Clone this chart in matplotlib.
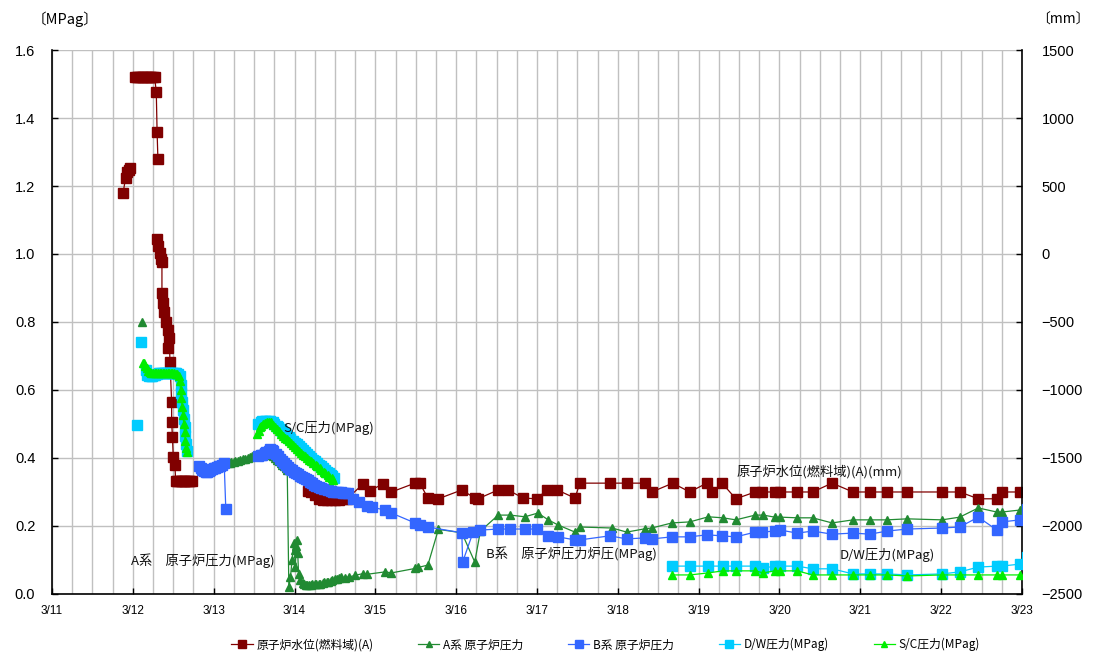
import numpy as np
import matplotlib
matplotlib.use("Agg")
import matplotlib.pyplot as plt

plt.rcParams['font.family'] = ['Noto Sans CJK JP', 'DejaVu Sans']

nan = np.nan

# time axis is "day of March" (11.0 = 3/11 0:00)
day_ticks = list(range(11, 24))
day_labels = [f"3/{d}" for d in day_ticks]

# 原子炉水位(燃料域)(A) [mm]  (nan = no record)
lvl_t = [11.88, 11.91, 11.93, 11.95, 11.97, nan,
         12.03, 12.05, 12.07, 12.09, 12.11, 12.13, 12.15, 12.17, 12.19, 12.21, 12.23,
         12.25, 12.27, 12.29, 12.30, 12.31, nan,
         12.30, 12.31, 12.33, 12.35, 12.36, 12.36, 12.37, 12.39, 12.41, 12.43, 12.44,
         12.45, 12.46, 12.48, 12.48, 12.49, 12.50, 12.52,
         12.53, 12.55, 12.57, 12.59, 12.61, 12.63, 12.65, 12.67, 12.69, 12.71, 12.73, nan,
         14.17, 14.21, 14.25, 14.30, 14.35, 14.40, 14.45, 14.50, 14.55, 14.60, 14.65,
         14.85, 14.93, 15.10, 15.20, 15.49, 15.55, 15.65, 15.78, 16.07, 16.23, 16.27,
         16.52, 16.64, 16.83, 17.00, 17.12, 17.25, 17.47, 17.53, 17.90, 18.11, 18.34,
         18.42, 18.68, 18.89, 19.10, 19.17, 19.29, 19.46, 19.70, 19.78, 19.94, 20.01,
         20.22, 20.41, 20.65, 20.91, 21.12, 21.33, 21.58, 22.01, 22.23, 22.46, 22.69,
         22.75, 22.98]
lvl_mm = [450, 560, 600, 620, 630, nan,
          1300, 1300, 1300, 1300, 1300, 1300, 1300, 1300, 1300, 1300, 1300,
          1300, 1300, 1190, 900, 700, nan,
          110, 60, 10, -40, -60, -290, -360, -430, -500, -560, -690,
          -620, -794, -1090, -1235, -1346, -1493, -1551,
          -1670, -1670, -1670, -1670, -1670, -1670, -1670, -1670, -1670, -1670, -1670, nan,
          -1740, -1750, -1770, -1800, -1810, -1810, -1810, -1810, -1810, -1800, -1800,
          -1690, -1740, -1690, -1750, -1685, -1685, -1795, -1800, -1735, -1795, -1800,
          -1735, -1735, -1795, -1800, -1735, -1735, -1795, -1685, -1685, -1685, -1685,
          -1750, -1685, -1750, -1685, -1750, -1685, -1800, -1750, -1750, -1750, -1750,
          -1750, -1750, -1685, -1750, -1750, -1750, -1750, -1750, -1750, -1800, -1800,
          -1750, -1750]

# A系 原子炉圧力 [MPag]
a_t = [12.11, nan,
       13.18, 13.20, 13.22, 13.25, 13.27, 13.30, 13.33, 13.36, 13.39, 13.42, 13.45,
       13.48, 13.51, 13.54, 13.57, 13.60, 13.63, 13.66, 13.68, 13.71, 13.73, 13.76,
       13.78, 13.81, 13.83, 13.85, 13.87, 13.89, 13.91, 13.93, 13.95, 13.97, 13.99,
       14.00, 14.01, 14.02, 14.03, 14.04, 14.05, 14.07, 14.10, 14.12, 14.14, 14.16,
       14.18, 14.20, 14.22, 14.25, 14.27, 14.30, 14.32, 14.35, 14.37, 14.40, 14.42,
       14.45, 14.47, 14.50, 14.52, 14.55, 14.57, 14.62, 14.68, 14.75, 14.85, 14.90,
       15.12, 15.20, 15.49, 15.53, 15.65, 15.78, 16.07, 16.23, 16.30, 16.52, 16.67,
       16.85, 17.01, 17.14, 17.26, 17.47, 17.53, 17.93, 18.11, 18.34, 18.42, 18.67,
       18.89, 19.12, 19.30, 19.46, 19.70, 19.80, 19.94, 20.01, 20.22, 20.41, 20.65,
       20.91, 21.12, 21.33, 21.58, 22.01, 22.23, 22.46, 22.69, 22.75, 22.98, 23.06]
a_p = [0.80, nan,
       0.385, 0.386, 0.387, 0.389, 0.390, 0.392, 0.394, 0.396, 0.398, 0.400, 0.403,
       0.406, 0.410, 0.412, 0.415, 0.418, 0.420, 0.418, 0.415, 0.410, 0.405, 0.400,
       0.395, 0.390, 0.385, 0.380, 0.375, 0.370, 0.365, 0.020, 0.050, 0.100, 0.150,
       0.130, 0.080, 0.140, 0.160, 0.120, 0.060, 0.040, 0.032, 0.028, 0.026, 0.025,
       0.025, 0.026, 0.028, 0.029, 0.030, 0.030, 0.030, 0.033, 0.035, 0.035, 0.035,
       0.038, 0.040, 0.043, 0.045, 0.048, 0.050, 0.048, 0.050, 0.055, 0.060, 0.058,
       0.065, 0.062, 0.075, 0.078, 0.085, 0.190, 0.180, 0.094, 0.185, 0.232, 0.232,
       0.227, 0.238, 0.218, 0.203, 0.182, 0.197, 0.194, 0.182, 0.192, 0.194, 0.209,
       0.212, 0.227, 0.224, 0.218, 0.232, 0.232, 0.226, 0.226, 0.224, 0.224, 0.209,
       0.218, 0.218, 0.218, 0.221, 0.218, 0.226, 0.253, 0.241, 0.241, 0.247, 0.300]

# B系 原子炉圧力 [MPag]
b_t = [12.82, 12.84, 12.86, 12.88, 12.90, 12.92, 12.94, 12.96, 12.98, 13.00, 13.02,
       13.04, 13.06, 13.08, 13.10, 13.13, 13.15, nan,
       13.55, 13.58, 13.60, 13.63, 13.65, 13.68, 13.70, 13.72, 13.74, 13.77, 13.79,
       13.82, 13.84, 13.87, 13.89, 13.92, 13.94, 13.97, 13.99, 14.02, 14.04, 14.07,
       14.09, 14.12, 14.14, 14.17, 14.19, 14.22, 14.24, 14.27, 14.30, 14.33, 14.36,
       14.39, 14.42, 14.45, 14.48, 14.51, 14.54, 14.57, 14.60, 14.63, 14.66,
       14.72, 14.80, 14.90, 14.96, 15.12, 15.20, 15.49, 15.55, 15.65, 16.07, 16.08,
       16.21, 16.30, 16.52, 16.67, 16.85, 17.00, 17.14, 17.26, 17.47, 17.53, 17.90,
       18.11, 18.34, 18.42, 18.67, 18.89, 19.10, 19.29, 19.46, 19.70, 19.78, 19.94,
       20.01, 20.22, 20.41, 20.65, 20.91, 21.12, 21.33, 21.58, 22.01, 22.23, 22.46,
       22.69, 22.75, 22.98, 23.06]
b_p = [0.375, 0.370, 0.365, 0.362, 0.360, 0.360, 0.362, 0.365, 0.368, 0.370, 0.372,
       0.374, 0.375, 0.376, 0.378, 0.385, 0.250, nan,
       0.405, 0.408, 0.410, 0.414, 0.418, 0.422, 0.425, 0.423, 0.420, 0.412, 0.405,
       0.398, 0.390, 0.384, 0.378, 0.373, 0.368, 0.364, 0.360, 0.356, 0.352, 0.348,
       0.345, 0.341, 0.338, 0.334, 0.330, 0.326, 0.322, 0.318, 0.315, 0.312, 0.310,
       0.308, 0.305, 0.302, 0.300, 0.300, 0.300, 0.299, 0.298, 0.298, 0.298,
       0.280, 0.270, 0.260, 0.255, 0.247, 0.238, 0.209, 0.203, 0.197, 0.180, 0.094,
       0.182, 0.188, 0.191, 0.191, 0.191, 0.191, 0.171, 0.168, 0.159, 0.159, 0.171,
       0.162, 0.165, 0.162, 0.168, 0.168, 0.174, 0.171, 0.168, 0.182, 0.182, 0.185,
       0.188, 0.179, 0.185, 0.176, 0.179, 0.176, 0.185, 0.191, 0.194, 0.197, 0.226,
       0.188, 0.212, 0.218, 0.250]

# D/W圧力 [MPag]
dw_t = [12.05, nan, 12.10, nan,
        12.16, 12.18, 12.20, 12.22, 12.24, 12.26, 12.28, 12.30, 12.32, 12.34, 12.36,
        12.38, 12.40, 12.42, 12.44, 12.46, 12.48, 12.50, 12.52, 12.54, 12.56, 12.58,
        12.59, 12.60, 12.61, 12.62, 12.63, 12.64, 12.65, 12.66, 12.67, nan,
        13.55, 13.58, 13.60, 13.63, 13.65, 13.68, 13.70, 13.73, 13.75, 13.78, 13.80,
        13.83, 13.85, 13.88, 13.90, 13.93, 13.95, 13.98, 14.00, 14.03, 14.05, 14.08,
        14.10, 14.13, 14.15, 14.18, 14.20, 14.23, 14.25, 14.28, 14.30, 14.33, 14.35,
        14.38, 14.40, 14.43, 14.45, 14.47, 14.49, nan,
        18.67, 18.89, 19.12, 19.30, 19.46, 19.70, 19.80, 19.94, 20.01, 20.22, 20.41,
        20.65, 20.91, 21.12, 21.33, 21.58, 22.01, 22.23, 22.46, 22.69, 22.75, 22.98,
        23.06]
dw_p = [0.497, nan, 0.740, nan,
        0.660, 0.645, 0.640, 0.640, 0.642, 0.645, 0.645, 0.648, 0.650, 0.650, 0.650,
        0.650, 0.650, 0.650, 0.650, 0.650, 0.650, 0.650, 0.650, 0.650, 0.648, 0.640,
        0.615, 0.590, 0.565, 0.540, 0.515, 0.490, 0.465, 0.440, 0.420, nan,
        0.500, 0.505, 0.510, 0.510, 0.510, 0.510, 0.510, 0.505, 0.500, 0.495, 0.490,
        0.485, 0.480, 0.474, 0.468, 0.462, 0.456, 0.450, 0.445, 0.440, 0.434, 0.428,
        0.423, 0.418, 0.412, 0.406, 0.400, 0.395, 0.390, 0.385, 0.380, 0.375, 0.370,
        0.365, 0.360, 0.355, 0.350, 0.346, 0.342, nan,
        0.082, 0.082, 0.082, 0.082, 0.082, 0.082, 0.076, 0.082, 0.082, 0.082, 0.074,
        0.074, 0.059, 0.059, 0.059, 0.056, 0.059, 0.065, 0.079, 0.082, 0.082, 0.088,
        0.110]

# S/C圧力 [MPag]
sc_t = [12.13, 12.14, 12.15, 12.17, 12.19, 12.21, 12.23, 12.25, 12.27, 12.29, 12.31,
        12.33, 12.35, 12.37, 12.39, 12.41, 12.43, 12.45, 12.47, 12.49, 12.51, 12.53,
        12.55, 12.57, 12.58, 12.59, 12.60, 12.61, 12.62, 12.63, 12.64, 12.65, 12.66,
        12.67, nan,
        13.54, 13.56, 13.57, 13.59, 13.61, 13.63, 13.66, 13.68, 13.71, 13.73, 13.76,
        13.78, 13.81, 13.83, 13.86, 13.88, 13.91, 13.93, 13.96, 13.98, 14.01, 14.03,
        14.06, 14.08, 14.11, 14.13, 14.16, 14.18, 14.21, 14.23, 14.26, 14.28, 14.31,
        14.33, 14.36, 14.38, 14.41, 14.43, 14.46, 14.48, nan,
        18.67, 18.89, 19.12, 19.30, 19.46, 19.70, 19.80, 19.94, 20.01, 20.22, 20.41,
        20.65, 20.91, 21.12, 21.33, 21.58, 22.01, 22.23, 22.46, 22.69, 22.75, 22.98]
sc_p = [0.680, 0.678, 0.672, 0.664, 0.656, 0.652, 0.650, 0.650, 0.650, 0.650, 0.650,
        0.650, 0.650, 0.650, 0.650, 0.650, 0.650, 0.650, 0.650, 0.650, 0.650, 0.648,
        0.646, 0.640, 0.625, 0.600, 0.575, 0.550, 0.525, 0.500, 0.475, 0.450, 0.430,
        0.418, nan,
        0.470, 0.480, 0.490, 0.495, 0.500, 0.503, 0.505, 0.505, 0.505, 0.498, 0.490,
        0.484, 0.478, 0.472, 0.466, 0.460, 0.455, 0.449, 0.443, 0.438, 0.432, 0.426,
        0.420, 0.415, 0.410, 0.405, 0.400, 0.395, 0.390, 0.385, 0.380, 0.375, 0.370,
        0.365, 0.360, 0.355, 0.350, 0.345, 0.340, 0.335, nan,
        0.056, 0.056, 0.062, 0.068, 0.068, 0.068, 0.062, 0.068, 0.068, 0.068, 0.056,
        0.056, 0.056, 0.056, 0.056, 0.053, 0.056, 0.056, 0.056, 0.056, 0.056, 0.056]

c_lvl = '#800000'
c_a = '#218A32'
c_b = '#3366FF'
c_dw = '#00CCFF'
c_sc = '#00EE00'
grid_c = '#C0C0C0'

fig = plt.figure(figsize=(10.95, 6.58), dpi=100)
ax = fig.add_axes([0.0475, 0.0973, 0.8858, 0.8267])
ax2 = ax.twinx()

# water level on the right axis, kept behind the pressure traces
ax.set_zorder(2)
ax2.set_zorder(1)
ax.patch.set_visible(False)

ax.set_xlim(11, 23)
ax.set_ylim(0, 1.6)
ax2.set_ylim(-2500, 1500)
ax.set_xticks(day_ticks)
ax.set_xticklabels(day_labels)
ax.set_xticks(np.arange(11, 23.001, 0.25), minor=True)
ax.set_yticks(np.arange(0, 1.601, 0.2))
ax.set_yticklabels([f"{v:.1f}" for v in np.arange(0, 1.601, 0.2)])
ax2.set_yticks(range(-2500, 1501, 500))

# grid drawn on the back axes
ax2.xaxis.set_visible(True)
ax2.tick_params(axis='x', which='both', bottom=False, top=False,
                labelbottom=False, labeltop=False)
ax2.grid(axis='x', which='both', color=grid_c, lw=1.0)
ax2.grid(axis='y', which='major', color=grid_c, lw=1.0)

num_font = 'Liberation Sans'
ax.tick_params(axis='x', which='major', direction='in', length=4, width=1,
               pad=8, labelsize=8.5)
ax.tick_params(axis='x', which='minor', length=0)
ax.tick_params(axis='y', direction='in', length=4, width=1, pad=12, labelsize=10.5)
ax2.tick_params(axis='y', direction='in', length=4, width=1, pad=14, labelsize=10.5)
for lab in ax.get_xticklabels() + ax.get_yticklabels() + ax2.get_yticklabels():
    lab.set_fontfamily(num_font)

for s in ['top', 'right']:
    ax.spines[s].set_visible(False)
for s in ['top', 'left', 'bottom']:
    ax2.spines[s].set_visible(False)
ax.spines['left'].set_linewidth(1.2)
ax.spines['bottom'].set_linewidth(1.2)
ax2.spines['right'].set_linewidth(1.2)

h_lvl, = ax2.plot(lvl_t, lvl_mm, color=c_lvl, lw=0.9, marker='s', ms=7,
                  mec=c_lvl, mfc=c_lvl)
h_a, = ax.plot(a_t, a_p, color=c_a, lw=0.9, marker='^', ms=5.5, mec=c_a, mfc=c_a)
h_dw, = ax.plot(dw_t, dw_p, color=c_dw, lw=0.9, marker='s', ms=6.5, mec=c_dw, mfc=c_dw)
h_b, = ax.plot(b_t, b_p, color=c_b, lw=0.9, marker='s', ms=6.5, mec=c_b, mfc=c_b)
h_sc, = ax.plot(sc_t, sc_p, color=c_sc, lw=0.9, marker='^', ms=6, mec=c_sc, mfc=c_sc)

# series labels inside the plot
txt = dict(fontsize=9.5, va='center', ha='left', color='#111111')
ax.text(13.86, 0.488, 'S/C圧力(MPag)', **txt)
ax.text(11.98, 0.097, 'A系　原子炉圧力(MPag)', **txt)
ax.text(16.37, 0.118, 'B系　原子炉圧力炉圧(MPag)', **txt)
ax.text(19.47, 0.359, '原子炉水位(燃料域)(A)(mm)', **txt)
ax.text(20.75, 0.115, 'D/W圧力(MPag)', **txt)

# axis units
fig.text(0.029, 0.970, '〔MPag〕', fontsize=10.5, va='center', ha='left')
fig.text(0.946, 0.970, '〔mm〕', fontsize=10, va='center', ha='left')

fig.legend([h_lvl, h_a, h_b, h_dw, h_sc],
           ['原子炉水位(燃料域)(A)', 'A系 原子炉圧力', 'B系 原子炉圧力',
            'D/W圧力(MPag)', 'S/C圧力(MPag)'],
           loc='center', bbox_to_anchor=(0.553, 0.02), ncol=5, frameon=False,
           fontsize=8.5, handlelength=1.8, handletextpad=0.3, columnspacing=3.8,
           markerscale=0.8)

fig.savefig('out.png', dpi=100, facecolor='white')
